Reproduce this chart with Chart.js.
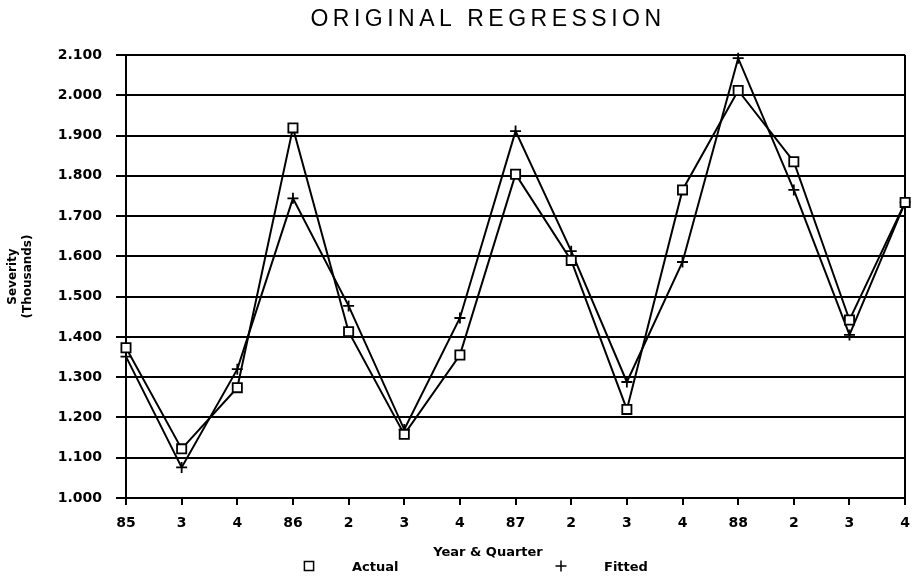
<!DOCTYPE html>
<html>
<head>
<meta charset="utf-8">
<title>Original Regression</title>
<script src="https://cdn.jsdelivr.net/npm/chart.js@4.4.1/dist/chart.umd.min.js"></script>
<style>
  body { margin: 0; background: #fff; }
  canvas { display: block; background: #fff; }
</style>
</head>
<body>
<canvas id="regressionChart" width="920" height="579"></canvas>
<script>
var quarters = ['85', '3', '4', '86', '2', '3', '4', '87', '2', '3', '4', '88', '2', '3', '4'];
var actual = [1.373, 1.122, 1.274, 1.919, 1.413, 1.158, 1.355, 1.804, 1.590, 1.220, 1.765, 2.012, 1.835, 1.442, 1.734];
var fitted = [1.351, 1.076, 1.320, 1.744, 1.477, 1.170, 1.447, 1.911, 1.613, 1.288, 1.586, 2.092, 1.765, 1.405, 1.734];
var yMin = 1.0, yMax = 2.1, yStep = 0.1;

var chartTitle = 'ORIGINAL REGRESSION';
var xTitle = 'Year & Quarter';
var yTitle = ['Severity', '(Thousands)'];

var smallFont = 'bold 13px "DejaVu Sans"';

// title, x axis title and legend drawn by hand so they sit where the old chart had them
var extraText = {
  id: 'extraText',
  afterDraw: function(chart) {
    var ctx = chart.ctx;
    ctx.save();
    ctx.fillStyle = '#000';
    ctx.strokeStyle = '#000';
    ctx.textBaseline = 'middle';
    ctx.textAlign = 'center';

    ctx.font = '23px "Liberation Sans"';
    ctx.letterSpacing = '4.5px';
    ctx.fillText(chartTitle, 488, 20);
    ctx.letterSpacing = '0px';

    ctx.font = smallFont;
    ctx.fillText(xTitle, 488, 553);

    ctx.textAlign = 'left';
    var legendX = [309, 561];
    chart.data.datasets.forEach(function(ds, i) {
      ctx.fillStyle = '#fff';
      ctx.strokeStyle = '#000';
      ctx.lineWidth = 1.5;
      Chart.helpers.drawPoint(ctx, {pointStyle: ds.pointStyle, radius: ds.pointRadius, borderWidth: 1.5, rotation: 0}, legendX[i], 566);
      ctx.fillStyle = '#000';
      ctx.fillText(ds.label, legendX[i] + 43, 568);
    });
    ctx.restore();
  }
};

var tickFont = {family: 'DejaVu Sans', size: 14, weight: 'bold'};

new Chart(document.getElementById('regressionChart'), {
  type: 'line',
  data: {
    labels: quarters,
    datasets: [{
      label: 'Actual',
      data: actual,
      borderColor: '#000',
      borderWidth: 2,
      pointStyle: 'rect',
      pointRadius: 6.5,
      pointBackgroundColor: '#fff',
      pointBorderColor: '#000',
      pointBorderWidth: 1.8,
      fill: false,
      tension: 0,
      clip: false
    }, {
      label: 'Fitted',
      data: fitted,
      borderColor: '#000',
      borderWidth: 2,
      pointStyle: 'cross',
      pointRadius: 5.5,
      pointBackgroundColor: '#fff',
      pointBorderColor: '#000',
      pointBorderWidth: 1.8,
      fill: false,
      tension: 0,
      clip: false
    }]
  },
  options: {
    responsive: false,
    animation: false,
    devicePixelRatio: 1,
    layout: {padding: {top: 55, right: 12, left: 0, bottom: 0}},
    plugins: {
      legend: {display: false},
      title: {display: false},
      tooltip: {enabled: false}
    },
    scales: {
      x: {
        offset: false,
        grid: {
          color: function(c) { return c.index === quarters.length - 1 ? '#000' : 'rgba(0,0,0,0)'; },
          tickColor: '#000',
          tickLength: 7,
          lineWidth: 2
        },
        border: {display: true, color: '#000', width: 2},
        ticks: {color: '#000', font: tickFont, padding: 10, maxRotation: 0, autoSkip: false},
        afterFit: function(scale) { scale.height = 81; }
      },
      y: {
        min: yMin,
        max: yMax,
        ticks: {
          stepSize: yStep,
          color: '#000',
          font: tickFont,
          padding: 14,
          callback: function(v) { return v.toFixed(3); }
        },
        grid: {color: '#000', lineWidth: 2, tickLength: 10},
        border: {color: '#000', width: 2},
        title: {
          display: true,
          text: yTitle,
          color: '#000',
          font: {family: 'DejaVu Sans', size: 12, weight: 'bold'},
          padding: {top: 6, bottom: 0}
        },
        afterFit: function(scale) { scale.width = 126; }
      }
    }
  },
  plugins: [extraText]
});
</script>
</body>
</html>
